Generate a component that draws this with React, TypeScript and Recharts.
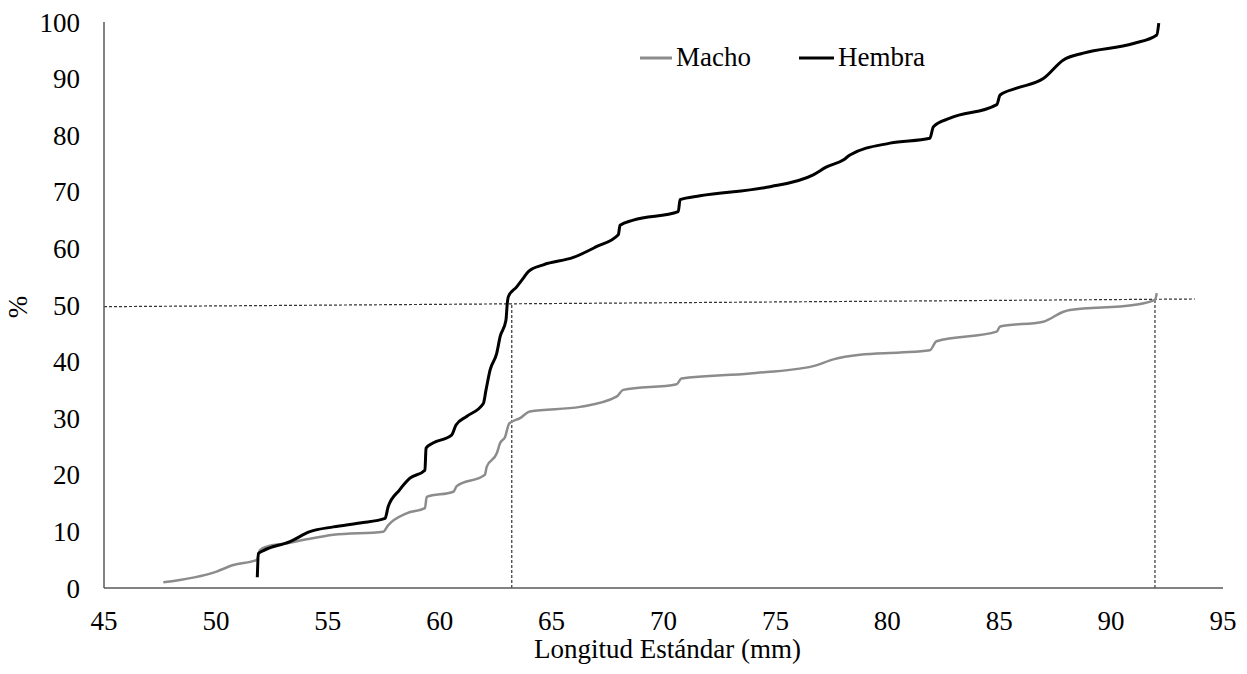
import React from 'react';
import { LineChart, Line, XAxis, YAxis, ReferenceLine, Legend } from 'recharts';

const xTicks = [45, 50, 55, 60, 65, 70, 75, 80, 85, 90, 95];
const yTicks = [0, 10, 20, 30, 40, 50, 60, 70, 80, 90, 100];
const legendOrder = ['Macho', 'Hembra'];

const machoX = [47.65, 50.03, 50.78, 51.82, 51.97, 52.27, 53.16, 54.06, 55.25, 57.48, 57.7, 58.52, 59.34, 59.42, 60.61, 60.76, 62.02, 62.1, 62.55, 62.7, 62.92, 63.11, 63.59, 64.03, 66.27, 67.9, 68.2, 70.59, 70.8, 73.86, 76.69, 77.59, 78.78, 80.57, 81.9, 82.2, 84.89, 85.04, 86.97, 87.87, 88.16, 91.0, 91.96, 92.04];
const machoY = [1.0, 2.9, 4.06, 4.95, 6.7, 7.3, 7.9, 8.6, 9.4, 9.95, 11.1, 13.2, 14.1, 16.1, 17.0, 18.0, 20.0, 21.4, 23.8, 25.6, 26.7, 29.1, 30.0, 31.2, 32.0, 33.8, 35.0, 36.0, 37.0, 37.9, 39.2, 40.4, 41.2, 41.6, 42.0, 43.6, 45.3, 46.2, 47.05, 48.8, 49.1, 50.0, 50.9, 52.1];

const hembraX = [51.85, 51.9, 52.12, 53.31, 54.2, 55.25, 56.44, 57.56, 57.7, 58.2, 58.67, 59.34, 59.39, 59.7, 60.53, 60.73, 61.2, 61.95, 62.07, 62.25, 62.55, 62.7, 62.96, 63.02, 63.07, 63.44, 63.73, 63.96, 64.63, 65.97, 67.0, 67.98, 68.06, 68.65, 70.66, 70.74, 71.63, 74.61, 76.69, 77.29, 78.03, 78.33, 80.12, 81.9, 82.06, 82.8, 84.89, 85.04, 85.78, 86.97, 87.87, 88.76, 91.0, 92.04, 92.13];
const hembraY = [1.9, 6.1, 6.6, 8.2, 9.95, 10.8, 11.5, 12.3, 14.4, 17.3, 19.4, 20.8, 24.7, 25.6, 27.0, 28.8, 30.3, 32.6, 35.0, 38.5, 41.5, 44.4, 47.3, 50.3, 51.5, 53.2, 54.7, 55.9, 57.1, 58.4, 60.3, 62.4, 64.1, 65.0, 66.5, 68.6, 69.3, 70.8, 73.0, 74.4, 75.6, 76.5, 78.6, 79.45, 81.5, 83.0, 85.4, 87.1, 88.3, 90.0, 93.3, 94.5, 96.2, 97.7, 99.8];

// dashed guide lines: [x1, y1, x2, y2]
const guideH = [45, 49.7, 93.75, 51.06];
const guideV1 = [63.22, 50.0, 63.22, 0];
const guideV2 = [91.96, 50.9, 91.96, 0];

const toPoints = (xs: number[], ys: number[]) => xs.map((x, i) => ({ x, y: ys[i] }));
const machoData = toPoints(machoX, machoY);
const hembraData = toPoints(hembraX, hembraY);

const FONT = '"Liberation Serif", "Times New Roman", serif';
const TEXT_COLOR = '#000';
const AXIS_COLOR = '#595959';

const legendLineWidths = [32, 35];

function LegendContent(props: any) {
  const payload = [...(props.payload || [])].sort(
    (a: any, b: any) => legendOrder.indexOf(a.value) - legendOrder.indexOf(b.value)
  );
  return (
    <div style={{ display: 'flex', fontFamily: FONT, fontSize: 27, lineHeight: '31px', color: TEXT_COLOR, whiteSpace: 'nowrap' }}>
      {payload.map((p: any, i: number) => (
        <div key={i} style={{ display: 'flex', alignItems: 'center', marginRight: i === 0 ? 48 : 0 }}>
          <svg width={legendLineWidths[i] || 34} height={6} style={{ display: 'block' }}>
            <line x1={0} y1={3} x2={legendLineWidths[i] || 34} y2={3} stroke={p.color} strokeWidth={3} />
          </svg>
          <span style={{ marginLeft: 4 }}>{p.value}</span>
        </div>
      ))}
    </div>
  );
}

function YLabel(props: any) {
  const vb = props.viewBox || { x: 0, y: 0, width: 0, height: 0 };
  const cx = vb.x + 18;
  const cy = vb.y + vb.height / 2 + 2;
  return (
    <text x={cx} y={cy} transform={`rotate(-90 ${cx} ${cy})`} textAnchor="middle" dominantBaseline="central" fontFamily={FONT} fontSize={27} fill={TEXT_COLOR}>
      %
    </text>
  );
}

export default function App() {
  return (
    <div style={{ position: 'absolute', left: 0, top: 0, width: 1247, height: 674, background: '#fff' }}>
      <LineChart width={1247} height={674} margin={{ top: 22, right: 24, left: 0, bottom: 0 }}>
        <XAxis
          type="number"
          dataKey="x"
          domain={[45, 95]}
          ticks={xTicks}
          allowDataOverflow
          tickLine={false}
          tickSize={0}
          tickMargin={23}
          height={86}
          axisLine={{ stroke: AXIS_COLOR, strokeWidth: 1.5 }}
          tick={{ fill: TEXT_COLOR, fontSize: 27, fontFamily: FONT }}
          label={{ value: 'Longitud Estándar (mm)', position: 'insideBottom', offset: 16, dx: 4, fill: TEXT_COLOR, fontSize: 27, fontFamily: FONT }}
        />
        <YAxis
          type="number"
          domain={[0, 100]}
          ticks={yTicks}
          allowDataOverflow
          width={104}
          tickLine={false}
          tickSize={0}
          tickMargin={24}
          axisLine={{ stroke: AXIS_COLOR, strokeWidth: 1.5 }}
          tick={{ fill: TEXT_COLOR, fontSize: 27, fontFamily: FONT }}
          label={<YLabel />}
        />
        <ReferenceLine segment={[{ x: guideH[0], y: guideH[1] }, { x: guideH[2], y: guideH[3] }]} stroke="#333" strokeWidth={1.2} strokeDasharray="3 2" />
        <ReferenceLine segment={[{ x: guideV1[0], y: guideV1[1] }, { x: guideV1[2], y: guideV1[3] }]} stroke="#333" strokeWidth={1.2} strokeDasharray="3 2" />
        <ReferenceLine segment={[{ x: guideV2[0], y: guideV2[1] }, { x: guideV2[2], y: guideV2[3] }]} stroke="#333" strokeWidth={1.2} strokeDasharray="3 2" />
        <Line data={machoData} dataKey="y" name="Macho" type="monotone" stroke="#8c8c8c" strokeWidth={2.5} dot={false} activeDot={false} isAnimationActive={false} />
        <Line data={hembraData} dataKey="y" name="Hembra" type="monotone" stroke="#000" strokeWidth={3} dot={false} activeDot={false} isAnimationActive={false} />
        <Legend
          layout="vertical"
          verticalAlign="middle"
          align="center"
          content={<LegendContent />}
          wrapperStyle={{ position: 'absolute', left: 640, top: 42, width: 400, height: 31 }}
        />
      </LineChart>
    </div>
  );
}
